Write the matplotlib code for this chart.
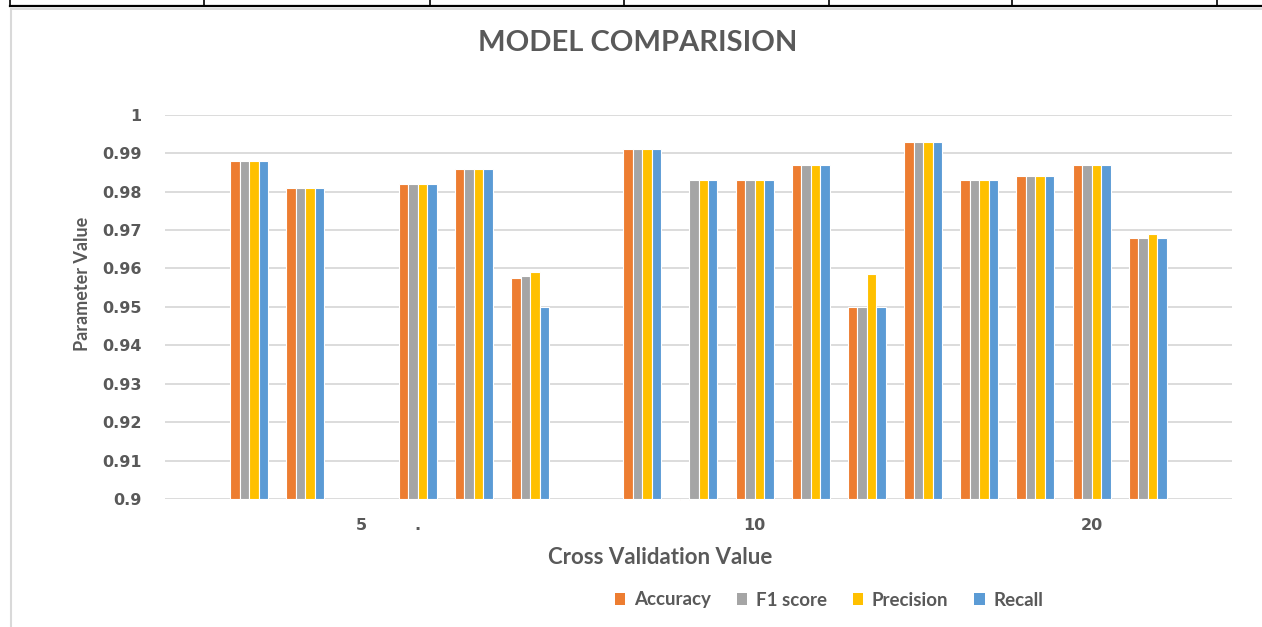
import numpy as np
import matplotlib.pyplot as plt
from matplotlib.lines import Line2D
from matplotlib.patches import Patch

nan = np.nan

# 19 category slots along the x axis (Excel-style, some empty)
x_labels = ['', '', '', '5', '.', '', '', '', '', '', '10', '', '', '', '', '', '20', '', '']

accuracy = [nan, 0.988, 0.981, nan, 0.982, 0.986, 0.9575, nan, 0.991, 0.8997,
            0.983, 0.987, 0.950, 0.993, 0.983, 0.984, 0.987, 0.968, nan]
f1_score = [nan, 0.988, 0.981, nan, 0.982, 0.986, 0.958, nan, 0.991, 0.983,
            0.983, 0.987, 0.950, 0.993, 0.983, 0.984, 0.987, 0.968, nan]
precision = [nan, 0.988, 0.981, nan, 0.982, 0.986, 0.959, nan, 0.991, 0.983,
             0.983, 0.987, 0.9585, 0.993, 0.983, 0.984, 0.987, 0.969, nan]
recall = [nan, 0.988, 0.981, nan, 0.982, 0.986, 0.950, nan, 0.991, 0.983,
          0.983, 0.987, 0.950, 0.993, 0.983, 0.984, 0.987, 0.968, nan]

series_names = ['Accuracy', 'F1 score', 'Precision', 'Recall']
colors = ['#ED7D31', '#A5A5A5', '#FFC000', '#5B9BD5']
text_color = '#595959'
base = 0.9

fig = plt.figure(figsize=(12.62, 6.27), dpi=100)
W, H = 1262, 627
ax = fig.add_axes([165 / W, 1 - 499 / H, (1232 - 165) / W, (499 - 114.7) / H])

x = np.arange(len(x_labels))
w = 0.169
for i, (vals, c) in enumerate(zip([accuracy, f1_score, precision, recall], colors)):
    v = np.array(vals)
    ax.bar(x + (i - 1.5) * w, v - base, bottom=base, width=w, color=c,
           edgecolor='white', linewidth=0.8, clip_on=False, zorder=3)

ax.set_xlim(-0.5, len(x_labels) - 0.5)
ax.set_ylim(0.9, 1.0)
ax.set_yticks(np.arange(0.90, 1.0001, 0.01))
ax.set_yticklabels(['0.9', '0.91', '0.92', '0.93', '0.94', '0.95', '0.96',
                    '0.97', '0.98', '0.99', '1'])
ax.set_xticks(x)
ax.set_xticklabels(x_labels)
ax.grid(axis='y', color='#D9D9D9', linewidth=1.3, zorder=0)
for s in ax.spines.values():
    s.set_visible(False)
ax.tick_params(length=0, colors=text_color, labelsize=11.5)
ax.tick_params(axis='y', pad=17)
ax.tick_params(axis='x', pad=14)
for lbl in ax.get_xticklabels() + ax.get_yticklabels():
    lbl.set_fontweight('bold')

# axis titles placed like the Excel chart (not centred on the plot area)
fig.text(83 / W, 1 - 284 / H, 'Parameter Value', rotation=90, ha='center',
         va='center', fontsize=13, fontweight='bold', color=text_color,
         family='Lato')
fig.text(660 / W, 1 - 558 / H, 'Cross Validation Value', ha='center',
         va='center', fontsize=16, fontweight='bold', color=text_color,
         family='Lato')
fig.text(638 / W, 1 - 43 / H, 'MODEL COMPARISION', ha='center', va='center',
         fontsize=21, fontweight='bold', color=text_color, family='Lato')

handles = [Patch(facecolor=c, edgecolor='none') for c in colors]
fig.legend(handles, series_names, loc='center', ncol=4,
           bbox_to_anchor=(829 / W, 1 - 600 / H), frameon=False,
           prop={'family': 'Lato', 'weight': 'bold', 'size': 13.5},
           labelcolor=text_color, handlelength=0.55, handleheight=0.55,
           handletextpad=0.45, columnspacing=1.4)

# page border bits around the chart
def fig_line(xs, ys, color, lw):
    fig.add_artist(Line2D([p / W for p in xs], [1 - p / H for p in ys],
                          color=color, linewidth=lw, transform=fig.transFigure))

fig_line([10, W], [5.5, 5.5], 'black', 1.6)
for vx in [10, 204, 430, 624, 829, 1012, 1217]:
    fig_line([vx, vx], [0, 5.5], 'black', 1.2)
fig_line([11, W], [8.7, 8.7], '#D9D9D9', 1.3)
fig_line([11, 11], [8.7, H], '#D9D9D9', 1.5)

fig.savefig('out.png', dpi=100)
